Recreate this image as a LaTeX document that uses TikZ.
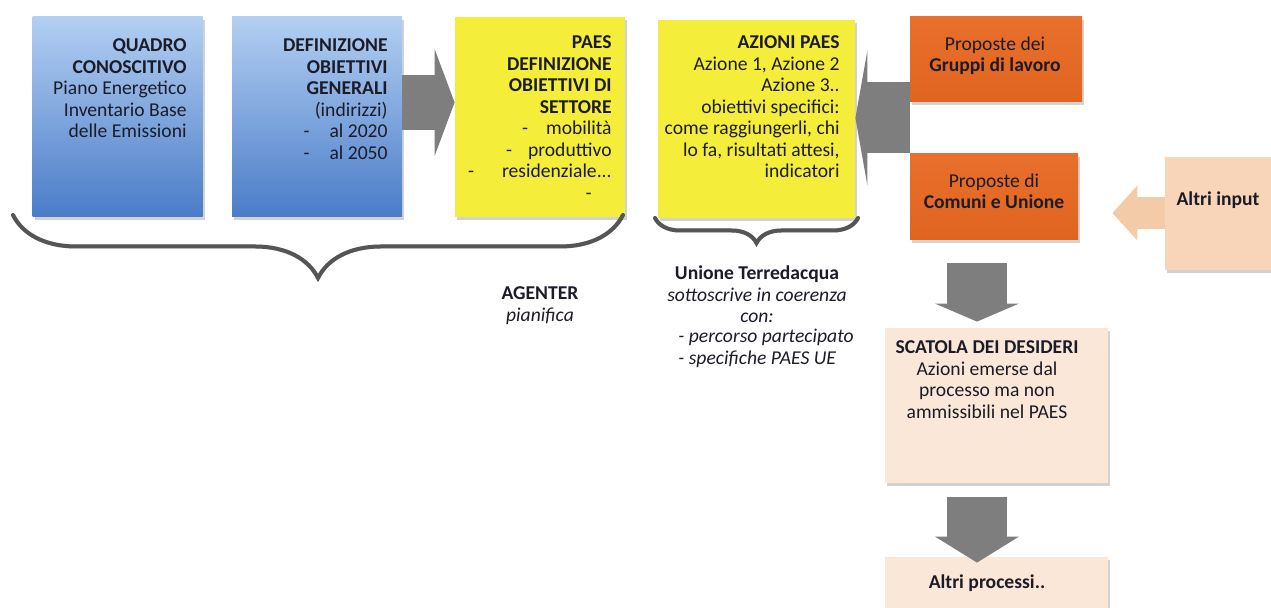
\documentclass[tikz,border=0pt]{standalone}
\usepackage{fontspec}
\setmainfont{Carlito}
\usetikzlibrary{arrows.meta, shadows, decorations.pathreplacing}

\definecolor{blueTop}{HTML}{B3CFF2}
\definecolor{blueMid}{HTML}{7FA8E2}
\definecolor{blueBot}{HTML}{4A7CC8}
\definecolor{paesYellow}{HTML}{F4EE3A}
\definecolor{propOrange}{HTML}{E8702C}
\definecolor{propOrangeDark}{HTML}{E0641F}
\definecolor{peach}{HTML}{F8D5B8}
\definecolor{peachLight}{HTML}{FBE7D8}
\definecolor{peachArrow}{HTML}{F4CBA8}
\definecolor{arrowGray}{HTML}{7E7E7E}
\definecolor{braceGray}{HTML}{555555}
\definecolor{inkText}{HTML}{1C1C28}

\begin{document}
\begin{tikzpicture}[x=0.5pt, y=-0.5pt,
  box/.style={inner sep=0pt, drop shadow={shadow xshift=1.2pt, shadow yshift=-1.5pt, opacity=0.35}},
  bluebox/.style={box, top color=blueTop, middle color=blueMid, bottom color=blueBot, minimum width=85pt, minimum height=100pt},
  yellowbox/.style={box, fill=paesYellow, minimum height=100pt},
  orangebox/.style={box, top color=propOrange, bottom color=propOrangeDark},
  peachbox/.style={box, fill=#1, minimum width=111.5pt},
  boxtext/.style={inner sep=0pt, text=inkText, font=\fontsize{9.8}{10.75}\selectfont},
  flow/.style={draw=arrowGray, line cap=butt},
  brace/.style={decorate, decoration={brace, mirror, amplitude=#1}, line width=2pt, line cap=round, draw=braceGray},
  braceshadow/.style={brace=#1, draw=black!30, opacity=0.6, xshift=0.8pt, yshift=-1.6pt}]

\useasboundingbox (0,0) rectangle (1271,608);
\fill[white] (0,0) rectangle (1271,608);

% boxes
\node[bluebox] (quadro) at (117.5,117) {};
\node[bluebox] (obiettivi) at (317,117) {};
\node[yellowbox, minimum width=85pt] (settore) at (540,117) {};
\node[yellowbox, minimum width=98.5pt, minimum height=99pt] (azioni) at (756.5,119) {};
\node[orangebox, minimum width=86pt, minimum height=42.5pt] (gruppi) at (996,59.5) {};
\node[orangebox, minimum width=84pt, minimum height=43pt] (comuni) at (994,197) {};
\node[peachbox=peach, minimum width=55pt, minimum height=56.5pt] (altri) at (1220,213.5) {};
\node[peachbox=peachLight, minimum height=77.5pt] (scatola) at (996.5,405.5) {};
\node[peachbox=peachLight, minimum height=34pt] (processi) at (996.5,591) {};

% texts in the boxes
\node[boxtext, anchor=north east, align=right] (quadroT) at (187,38.7)
  {\textbf{QUADRO}\\\textbf{CONOSCITIVO}\\Piano Energetico\\Inventario Base\\delle Emissioni};
\node[boxtext, anchor=north east, align=right] (obiettiviT) at (388,38.7)
  {\textbf{DEFINIZIONE}\\\textbf{OBIETTIVI}\\\textbf{GENERALI}\\(indirizzi)\\-\kern10pt al 2020\\-\kern10pt al 2050};
\node[boxtext, anchor=north east, align=right] (settoreT) at (612,35.7)
  {\textbf{PAES}\\\textbf{DEFINIZIONE}\\\textbf{OBIETTIVI DI}\\\textbf{SETTORE}\\-\kern9pt mobilità\\-\kern8pt produttivo\\-\kern14pt residenziale...\\-\kern10pt};
\node[boxtext, anchor=north east, align=right] (azioniT) at (840,35.7)
  {\textbf{AZIONI PAES}\\Azione 1, Azione 2\\Azione 3..\\obiettivi specifici:\\come raggiungerli, chi\\lo fa, risultati attesi,\\indicatori};
\node[boxtext, anchor=north, align=center] (gruppiT) at (995,36)
  {Proposte dei\\\textbf{Gruppi di lavoro}};
\node[boxtext, anchor=north, align=center] (comuniT) at (994,173)
  {Proposte di\\\textbf{Comuni e Unione}};
\node[boxtext] (altriT) at (1218,200) {\textbf{Altri input}};
\node[boxtext, anchor=north, align=center] (scatolaT) at (987,340.5)
  {\textbf{SCATOLA DEI DESIDERI}\\Azioni emerse dal\\processo ma non\\ammissibili nel PAES};
\node[boxtext] (processiT) at (987,583) {\textbf{Altri processi..}};

% block arrows
\coordinate (rowA) at (0,102.5);
\coordinate (rowB) at (0,118);
\coordinate (rowC) at (0,213);
\coordinate (colD) at (977,0);
\draw[flow, line width=27.5pt, -{Triangle[width=53.5pt, length=10pt, line width=0pt]}]
  (obiettivi.east |- rowA) -- (settore.west |- rowA);
\draw[flow, line width=35.5pt, -{Triangle[width=67.5pt, length=6pt, line width=0pt]}]
  (gruppi.west |- rowB) -- (azioni.east |- rowB);
\draw[flow, draw=peachArrow, line width=16pt, shorten >=17pt, -{Triangle[width=27.5pt, length=12.5pt, line width=0pt]}]
  (altri.west |- rowC) -- (comuni.east |- rowC);
\draw[flow, line width=30pt, shorten <=11.5pt, shorten >=3pt, -{Triangle[width=42pt, length=9pt, line width=0pt]}]
  (comuni.south -| colD) -- (scatola.north -| colD);
\draw[flow, line width=30pt, shorten <=7pt, shorten >=-3pt, -{Triangle[width=42pt, length=13pt, line width=0pt]}]
  (scatola.south -| colD) -- (processi.north -| colD);

% braces
\coordinate (bigL) at (13,215);
\coordinate (bigR) at (623,215);
\coordinate (smallL) at (655,218);
\coordinate (smallR) at (858,218);
\draw[braceshadow=31.5pt] (bigL) -- (bigR);
\draw[brace=31.5pt] (bigL) -- (bigR);
\draw[braceshadow=12.5pt] (smallL) -- (smallR);
\draw[brace=12.5pt] (smallL) -- (smallR);

% notes under the braces
\node[boxtext, anchor=north, align=center] (agenter) at (540,286.5)
  {\textbf{AGENTER}\\\textit{pianifica}};
\node[boxtext, anchor=north, align=center] (unione) at (757,265.5)
  {\textbf{Unione Terredacqua}\\\textit{sottoscrive in coerenza}\\\textit{con:}};
\node[boxtext, anchor=north west, align=left] (unioneL) at (678,329)
  {\textit{- percorso partecipato}\\\textit{- specifiche PAES UE}};
\end{tikzpicture}
\end{document}
